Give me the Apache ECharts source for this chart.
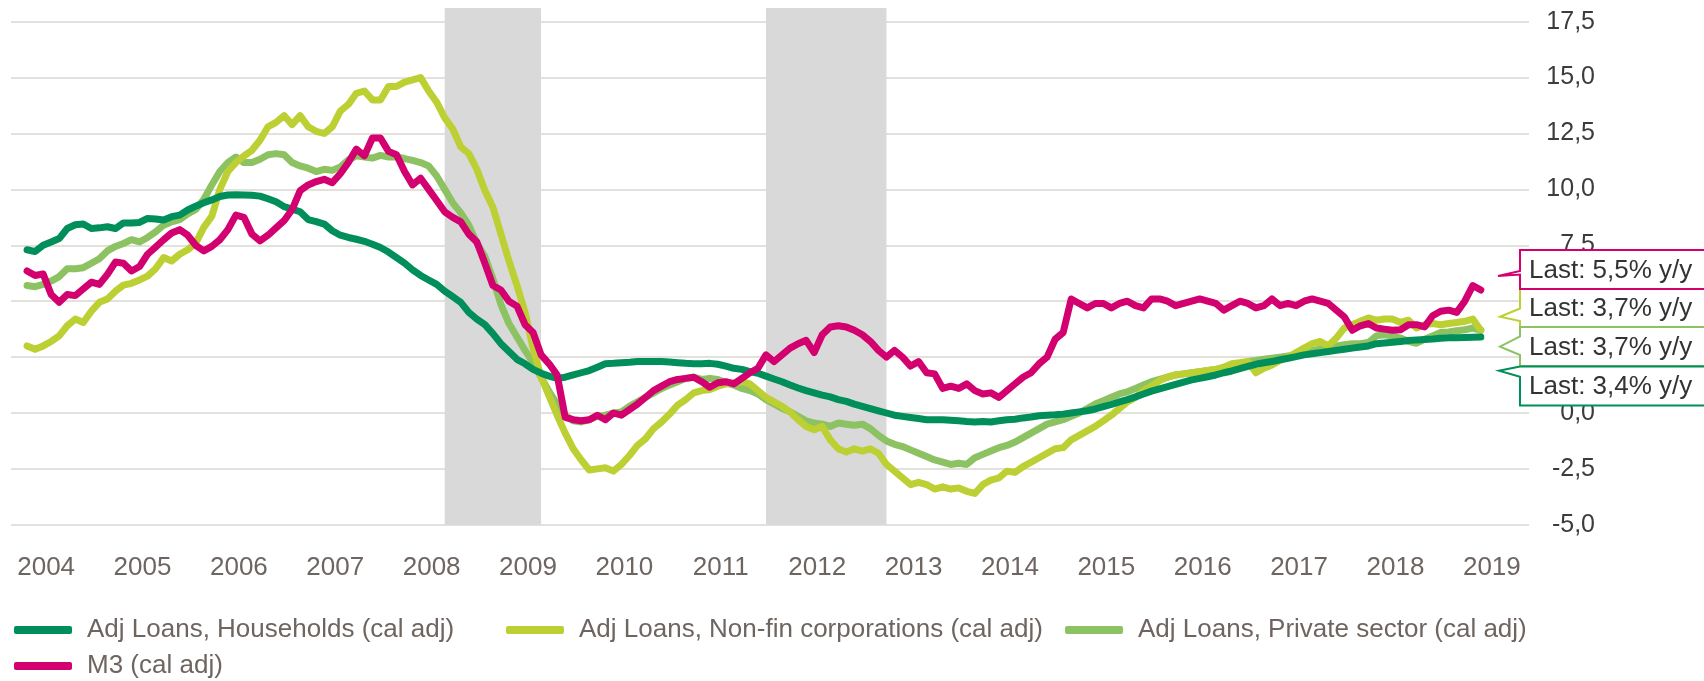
<!DOCTYPE html>
<html>
<head>
<meta charset="utf-8">
<title>Adj loans and M3, y/y</title>
<script src="https://cdn.jsdelivr.net/npm/echarts@6/dist/echarts.min.js"></script>
<style>
  html, body { margin: 0; padding: 0; background: #fff; }
  #chart { width: 1704px; height: 681px; }
</style>
</head>
<body>
<div id="chart"></div>
<script>
// months on the axis: Sep 2003 .. Jun 2019, the lines start in Nov 2003
const firstYear = 2003
const firstMonth = 9
const monthCount = 190
const dataStart = '2003-11'

const months = []
for (let k = 0; k < monthCount; k++) {
  const m = firstMonth - 1 + k
  months.push((firstYear + Math.floor(m / 12)) + '-' + String(m % 12 + 1).padStart(2, '0'))
}

const names = [
  'Adj Loans, Households (cal adj)',
  'Adj Loans, Non-fin corporations (cal adj)',
  'Adj Loans, Private sector (cal adj)',
  'M3 (cal adj)'
]
const colors = ['#008f5a', '#bdd033', '#8dc262', '#d3006f']

// y/y growth, %
const households = [
  7.3, 7.22, 7.5, 7.65, 7.8, 8.25, 8.42, 8.45, 8.25, 8.28,
  8.33, 8.25, 8.5, 8.5, 8.52, 8.7, 8.68, 8.63, 8.78, 8.85,
  9.08, 9.25, 9.4, 9.53, 9.68, 9.75, 9.76, 9.75, 9.74, 9.7,
  9.58, 9.45, 9.23, 9.12, 9.0, 8.65, 8.56, 8.45, 8.15, 7.95,
  7.85, 7.77, 7.68, 7.55, 7.4, 7.2, 6.95, 6.7, 6.4, 6.15,
  5.95, 5.75, 5.45, 5.2, 4.95, 4.5, 4.2, 3.95, 3.55, 3.1,
  2.75, 2.4, 2.2, 1.95, 1.78, 1.65, 1.55, 1.6, 1.7, 1.8,
  1.9, 2.05, 2.2, 2.22, 2.25, 2.27, 2.3, 2.3, 2.3, 2.3,
  2.28, 2.25, 2.22, 2.2, 2.2, 2.22, 2.18, 2.1, 2.0, 1.95,
  1.85, 1.78, 1.65, 1.52, 1.4, 1.25, 1.12, 1.0, 0.9, 0.8,
  0.72, 0.6, 0.52, 0.4, 0.3, 0.2, 0.1, 0.0, -0.1, -0.15,
  -0.2, -0.25, -0.3, -0.3, -0.3, -0.32, -0.35, -0.38, -0.4, -0.38,
  -0.4, -0.35, -0.3, -0.28, -0.22, -0.18, -0.12, -0.1, -0.08, -0.05,
  0.0, 0.05, 0.1, 0.18, 0.28, 0.38, 0.5, 0.6, 0.72, 0.85,
  0.98, 1.08, 1.18, 1.28, 1.38, 1.48, 1.55, 1.62, 1.7, 1.8,
  1.88, 1.98, 2.08, 2.18, 2.25, 2.3, 2.38, 2.45, 2.52, 2.6,
  2.65, 2.7, 2.75, 2.8, 2.85, 2.9, 2.95, 3.0, 3.1, 3.13,
  3.16, 3.2, 3.24, 3.27, 3.29, 3.31, 3.34, 3.36, 3.37, 3.38,
  3.39, 3.4
]
const corporations = [
  3.0, 2.85, 3.0, 3.2, 3.45, 3.9, 4.2, 4.05, 4.55, 4.95,
  5.1, 5.45, 5.72, 5.8, 5.95, 6.12, 6.45, 6.95, 6.8, 7.1,
  7.3, 7.6, 8.3, 8.8, 10.0, 10.8, 11.2, 11.5, 11.75, 12.2,
  12.8, 13.0, 13.3, 12.9, 13.3, 12.8, 12.6, 12.5, 12.8, 13.5,
  13.8, 14.3, 14.4, 14.0, 14.0, 14.6, 14.6, 14.8, 14.9, 15.0,
  14.4, 13.9, 13.2, 12.7, 11.9, 11.6, 10.9, 9.95, 9.2, 8.0,
  6.8, 5.7, 4.5, 2.9, 1.6, 0.75, -0.1, -0.9, -1.6, -2.1,
  -2.55, -2.5, -2.45, -2.6, -2.3, -1.9, -1.45, -1.15, -0.7, -0.4,
  -0.05, 0.35, 0.6, 0.9, 1.0, 1.05, 1.2, 1.3, 1.35, 1.4,
  1.3, 1.0, 0.7, 0.5, 0.3, 0.05, -0.3, -0.6, -0.75, -0.6,
  -1.2, -1.6, -1.75, -1.6, -1.7, -1.6, -1.8, -2.3, -2.6, -2.9,
  -3.2, -3.1, -3.2, -3.4, -3.3, -3.4, -3.35, -3.5, -3.6, -3.2,
  -3.0, -2.9, -2.6, -2.65, -2.4, -2.2, -2.0, -1.8, -1.6, -1.55,
  -1.2, -1.0, -0.8, -0.6, -0.35, -0.1, 0.2, 0.5, 0.7, 1.0,
  1.2, 1.45, 1.6, 1.7, 1.75, 1.8, 1.85, 1.9, 1.95, 2.05,
  2.2, 2.25, 2.3, 1.8, 2.0, 2.15, 2.35, 2.5, 2.7, 2.9,
  3.1, 3.2, 3.0, 3.35, 3.8, 3.95, 4.1, 4.25, 4.15, 4.2,
  4.2, 4.05, 4.15, 3.8, 3.95, 4.0, 3.95, 4.0, 4.05, 4.1,
  4.2, 3.7
]
const privateSector = [
  5.7, 5.65, 5.75, 5.9, 6.1, 6.45, 6.45, 6.5, 6.7, 6.9,
  7.25, 7.45, 7.58, 7.75, 7.65, 7.85, 8.1, 8.4, 8.55, 8.65,
  8.9, 9.1, 9.55, 10.2, 10.8, 11.2, 11.45, 11.2, 11.2, 11.35,
  11.55, 11.6, 11.55, 11.2, 11.05, 10.95, 10.8, 10.9, 10.85, 11.0,
  11.32, 11.5, 11.45, 11.4, 11.52, 11.45, 11.45, 11.38, 11.3, 11.2,
  11.05, 10.6, 10.0, 9.4, 8.95, 8.4, 7.6, 7.0, 6.0, 4.85,
  4.0, 3.4, 2.8, 2.25, 1.6, 0.95, 0.4, -0.1, -0.35, -0.4,
  -0.3, -0.15, -0.1, 0.0, 0.05, 0.3, 0.5, 0.7, 0.9, 1.1,
  1.25, 1.4, 1.55, 1.6, 1.5, 1.55, 1.5, 1.35, 1.25, 1.1,
  1.0, 0.85, 0.6, 0.4, 0.2, 0.05, -0.15, -0.35, -0.45, -0.5,
  -0.6, -0.45, -0.5, -0.55, -0.5, -0.7, -1.0, -1.25, -1.4, -1.5,
  -1.65, -1.8, -1.95, -2.1, -2.2, -2.3, -2.25, -2.3, -2.0, -1.85,
  -1.7, -1.55, -1.45, -1.3, -1.1, -0.9, -0.7, -0.5, -0.4, -0.3,
  -0.15, 0.0, 0.2, 0.4, 0.55, 0.7, 0.85, 0.95, 1.1, 1.25,
  1.4, 1.5, 1.6, 1.7, 1.75, 1.8, 1.85, 1.9, 1.95, 2.0,
  2.1, 2.2, 2.3, 2.35, 2.4, 2.45, 2.5, 2.55, 2.6, 2.7,
  2.8, 2.85, 2.9, 3.0, 3.05, 3.1, 3.1, 3.15, 3.45, 3.5,
  3.45, 3.35, 3.2, 3.12, 3.3, 3.45, 3.6, 3.62, 3.68, 3.72,
  3.8, 3.7
]
const m3 = [
  6.35, 6.15, 6.22, 5.3, 4.95, 5.3, 5.25, 5.55, 5.85, 5.75,
  6.2, 6.75, 6.7, 6.35, 6.55, 7.1, 7.42, 7.75, 8.05, 8.2,
  7.95, 7.5, 7.25, 7.45, 7.75, 8.2, 8.85, 8.75, 8.0, 7.7,
  7.95, 8.28, 8.6, 9.1, 9.95, 10.2, 10.35, 10.45, 10.3, 10.7,
  11.2, 11.8, 11.5, 12.3, 12.3, 11.7, 11.55, 10.8, 10.2, 10.5,
  10.0, 9.5, 9.0, 8.75, 8.55, 8.0, 7.65, 6.7, 5.7, 5.5,
  5.0, 4.78, 3.95, 3.6, 2.6, 2.2, 1.7, -0.2, -0.3, -0.35,
  -0.3, -0.1, -0.3, 0.0, -0.1, 0.15, 0.4, 0.7, 1.0, 1.2,
  1.4, 1.5, 1.55, 1.6, 1.4, 1.15, 1.35, 1.4, 1.3, 1.55,
  1.8, 2.0, 2.6, 2.3, 2.6, 2.9, 3.1, 3.25, 2.7, 3.5,
  3.85, 3.9, 3.85, 3.7, 3.5, 3.2, 2.8, 2.5, 2.8, 2.5,
  2.1, 2.3, 1.8, 1.75, 1.1, 1.2, 1.1, 1.3, 1.0, 0.85,
  0.9, 0.7, 1.0, 1.3, 1.6, 1.8, 2.2, 2.5, 3.3, 3.6,
  5.1, 4.9, 4.7, 4.9, 4.9, 4.7, 4.9, 5.0, 4.8, 4.7,
  5.1, 5.1, 5.0, 4.8, 4.9, 5.0, 5.1, 5.0, 4.9, 4.6,
  4.8, 5.0, 4.9, 4.7, 4.8, 5.1, 4.8, 4.9, 4.8, 5.0,
  5.1, 5.0, 4.9, 4.6, 4.3, 3.7, 3.9, 4.0, 3.8, 3.75,
  3.7, 3.72, 3.95, 3.95, 3.85, 4.35, 4.55, 4.6, 4.5, 5.0,
  5.7, 5.5
]

// shaded periods (recessions)
const recessions = [['2008-03', '2009-03'], ['2011-07', '2012-10']]

// y axis
const yMin = -5
const yMax = 17.5
const yStep = 2.5

const textFont = 'Liberation Sans, Arial, sans-serif'
const greyText = '#6e6560'

function toPairs (values) {
  const offset = months.indexOf(dataStart)
  return values.map((v, k) => [months[offset + k], v])
}

function fmt (v) {
  return v.toFixed(1).replace('.', ',')
}

// the "Last: x% y/y" boxes to the right of the plot
const callouts = [
  { series: 1, values: corporations, top: 288.5, w1: 308.5, w2: 321, tip: [1500, 316.7] },
  { series: 3, values: m3, top: 250, w1: 271, w2: 274.5, tip: [1498, 276] },
  { series: 2, values: privateSector, top: 327, w1: 336.5, w2: 355, tip: [1500, 346.7] },
  { series: 0, values: households, top: 366.5, w1: 366.5, w2: 376.7, tip: [1499, 370.7] }
]

function calloutGraphics () {
  const boxLeft = 1520
  const boxRight = 1740
  const boxHeight = 39
  const out = []
  callouts.forEach((c, k) => {
    const bottom = c.top + boxHeight
    out.push({
      type: 'polygon',
      z: 100 + k * 2,
      shape: {
        points: [
          [boxLeft, c.top], [boxRight, c.top], [boxRight, bottom], [boxLeft, bottom],
          [boxLeft, c.w2], c.tip, [boxLeft, c.w1]
        ]
      },
      style: { fill: '#fff', stroke: colors[c.series], lineWidth: 2 }
    })
    out.push({
      type: 'text',
      z: 101 + k * 2,
      x: 1529,
      y: c.top + boxHeight / 2 + 1,
      style: {
        text: 'Last: ' + fmt(c.values[c.values.length - 1]) + '% y/y',
        fill: '#333',
        fontSize: 26,
        fontFamily: textFont,
        verticalAlign: 'middle'
      }
    })
  })
  return out
}

const legendSpots = [
  { left: 14, top: 617 },
  { left: 506, top: 617 },
  { left: 1065, top: 617 },
  { left: 14, top: 653 }
]

const seriesData = [households, corporations, privateSector, m3]
const seriesZ = [5, 4, 3, 6]

const chart = echarts.init(document.getElementById('chart'))

const option = {
  animation: false,
  color: colors,
  textStyle: { fontFamily: textFont },
  grid: [
    { left: 11, right: 175, top: 21.7, bottom: 156.2 },
    { left: 11, right: 175, top: 8, bottom: 156.2 }
  ],
  legend: legendSpots.map((spot, k) => ({
    data: [names[k]],
    left: spot.left,
    top: spot.top,
    padding: 0,
    selectedMode: false,
    icon: 'roundRect',
    itemWidth: 58,
    itemHeight: 8,
    textStyle: { fontSize: 26, color: greyText, padding: [0, 0, 0, 10] }
  })),
  xAxis: [
    {
      type: 'category',
      data: months,
      boundaryGap: false,
      axisLine: { show: false },
      axisTick: { show: false },
      splitLine: { show: false },
      axisLabel: {
        interval: (idx, value) => value.endsWith('-01'),
        formatter: value => value.slice(0, 4),
        fontSize: 26,
        color: greyText,
        margin: 30,
        padding: [0, 0, 0, 6]
      }
    },
    {
      type: 'category',
      gridIndex: 1,
      data: months,
      boundaryGap: false,
      show: false
    }
  ],
  yAxis: [
    {
      type: 'value',
      position: 'right',
      min: yMin,
      max: yMax,
      interval: yStep,
      axisLine: { show: false },
      axisTick: { show: false },
      splitLine: { lineStyle: { color: '#e3e1dc', width: 2 } },
      axisLabel: {
        formatter: fmt,
        fontSize: 25,
        color: '#3c3c3c',
        align: 'right',
        margin: 66
      }
    },
    { type: 'value', gridIndex: 1, min: 0, max: 1, show: false }
  ],
  graphic: calloutGraphics(),
  series: [
    {
      type: 'line',
      xAxisIndex: 1,
      yAxisIndex: 1,
      z: 1,
      silent: true,
      data: [],
      markArea: {
        silent: true,
        itemStyle: { color: '#d9d9d9' },
        data: recessions.map(r => [{ xAxis: r[0] }, { xAxis: r[1] }])
      }
    }
  ].concat(seriesData.map((values, k) => ({
    name: names[k],
    type: 'line',
    z: seriesZ[k],
    data: toPairs(values),
    showSymbol: false,
    symbol: 'none',
    silent: true,
    lineStyle: { width: 7, color: colors[k], cap: 'round', join: 'round' },
    itemStyle: { color: colors[k] }
  })))
}

chart.setOption(option)
</script>
</body>
</html>
